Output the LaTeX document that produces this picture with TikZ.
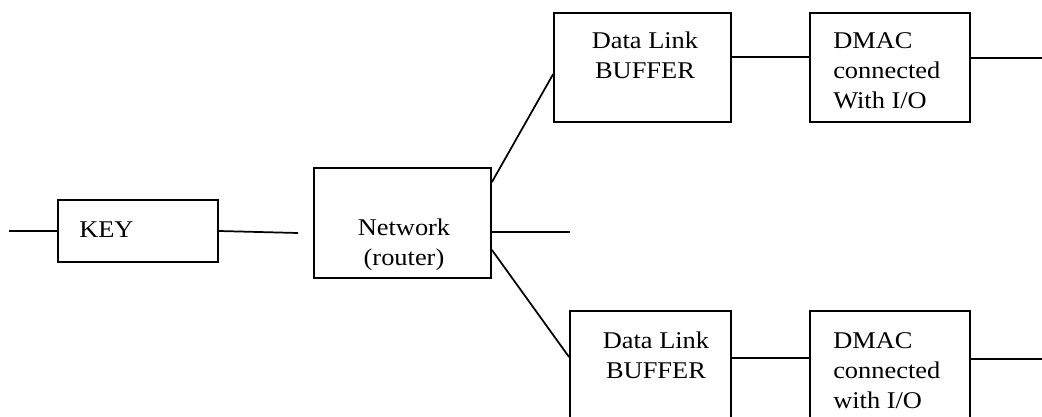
\documentclass[tikz,border=0pt]{standalone}
\usepackage{fontspec}
\setmainfont[FakeStretch=1.1]{Liberation Serif}
\usetikzlibrary{positioning,calc,fit}
\tikzset{
  box/.style={draw,line width=1.3pt,inner sep=0pt},
  lbl/.style={inner sep=0pt,font=\fontsize{18}{22.5}\selectfont},
  wire/.style={line width=1.3pt}
}

\begin{document}
\begin{tikzpicture}[x=0.75pt,y=-0.75pt]
    \useasboundingbox (0,0) rectangle (1042,417);
    \clip (0,0) rectangle (1042,417);
    % boxes
    \node[box,fit={(58,200) (218,262)}] (key) {};
    \node[box,fit={(314,168) (491,278)}] (net) {};
    \node[box,fit={(554,13) (731,122)}] (dl1) {};
    \node[box,fit={(810,13) (970,122)}] (dm1) {};
    \node[box,fit={(570,311) (731,430)}] (dl2) {};
    \node[box,fit={(810,311) (970,430)}] (dm2) {};
    % texts
    \node[lbl,anchor=north west] (keyt) at (79,222) {KEY};
    \node[lbl,anchor=north,align=center] (nett) at (404,219) {Network\\(router)};
    \node[lbl,anchor=north,align=center] (dl1t) at (645,32) {Data Link\\BUFFER};
    \node[lbl,anchor=north west,align=left] (dm1t) at (833,32) {DMAC\\connected\\With I/O};
    \node[lbl,anchor=north,align=center] (dl2t) at (656,332) {Data Link\\BUFFER};
    \node[lbl,anchor=north west,align=left] (dm2t) at (833,332) {DMAC\\connected\\with I/O};
    % free ends
    \coordinate (in) at (9,231);
    \coordinate (k2) at (298,233);
    \coordinate (mid) at (570,232);
    \coordinate (o1) at (1042,58);
    \coordinate (o2) at (1042,359);
    % connectors
    \draw[wire] (in) -- (key.west);
    \draw[wire] (key.east) -- (k2);
    \draw[wire] (net.east |- mid) -- (mid);
    \draw[wire] ($(net.north east)+(0,15)$) -- ($(dl1.north west)+(0,62)$);
    \draw[wire] ($(net.south east)+(0,-29)$) -- ($(dl2.north west)+(0,47)$);
    \draw[wire] ($(dl1.north east)+(0,45)$) -- ($(dm1.north west)+(0,45)$);
    \draw[wire] (dm1.east |- o1) -- (o1);
    \draw[wire] ($(dl2.north east)+(0,48)$) -- ($(dm2.north west)+(0,48)$);
    \draw[wire] (dm2.east |- o2) -- (o2);
\end{tikzpicture}
\end{document}
